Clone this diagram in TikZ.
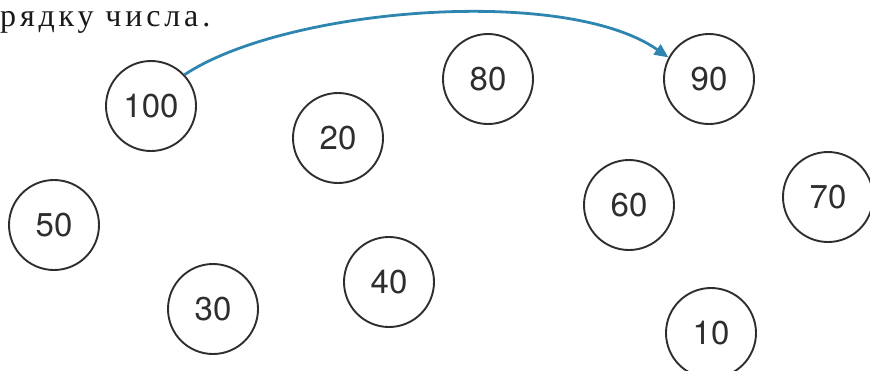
\documentclass[tikz,border=0pt]{standalone}
\usepackage{fontspec}
\setmainfont{Liberation Serif}
\newfontfamily\numfont{TeX Gyre Heros}
\newfontfamily\rusfont[LetterSpace=12]{Liberation Serif}
\usetikzlibrary{arrows.meta}
\definecolor{ringgray}{HTML}{2E2E2E}
\definecolor{arrowblue}{HTML}{2E86B0}
\tikzset{
  x=1pt,y=-1pt,
  num/.style={circle,draw=ringgray,line width=1.9pt,minimum size=90pt,inner sep=0pt,
    font=\numfont\fontsize{33}{35}\selectfont,text=ringgray},
  jump/.style={draw=arrowblue,line width=2.8pt,-{Triangle[length=14pt,width=12pt]}}
}
\begin{document}
\begin{tikzpicture}
\useasboundingbox (0,0) rectangle (870,370);
\node[anchor=base west,inner sep=0pt,font=\rusfont\fontsize{32}{34}\selectfont,text=black!90] (title) at (0,26) {рядку числа.};
\node[num] (n100) at (151,106) {100};
\node[num] (n20) at (338,138) {20};
\node[num] (n80) at (488,79) {80};
\node[num] (n90) at (709,79) {90};
\node[num] (n60) at (629,205) {60};
\node[num] (n70) at (828,197) {70};
\node[num] (n50) at (54,225) {50};
\node[num] (n30) at (213,309) {30};
\node[num] (n40) at (389,282) {40};
\node[num] (n10) at (711,333) {10};
\draw[jump] (n100.43) .. controls (285,8) and (565,-15) .. (n90.152);
\end{tikzpicture}
\end{document}
